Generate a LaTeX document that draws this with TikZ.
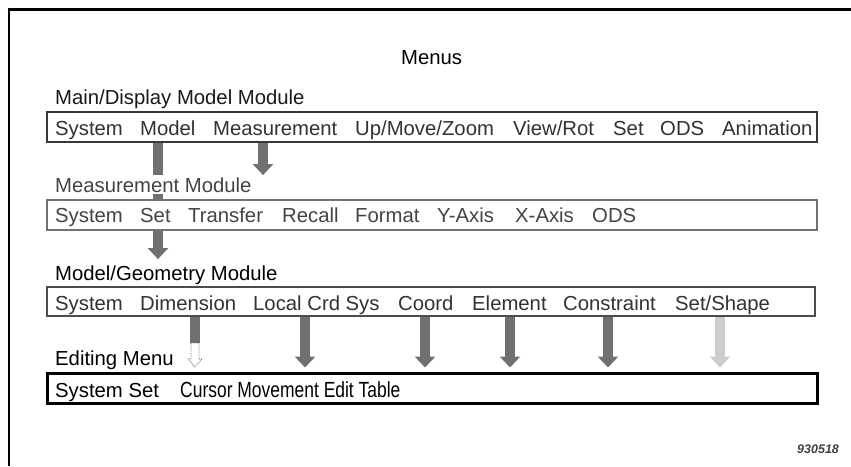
\documentclass[tikz,border=0pt]{standalone}
\usepackage{fontspec}
\setmainfont{Liberation Sans}
\usepackage{graphicx}
\usetikzlibrary{arrows.meta}
\pgfdeclarelayer{bg}
\pgfsetlayers{bg,main}
\definecolor{arr}{RGB}{112,112,112}
\definecolor{arrlight}{RGB}{205,205,205}
\definecolor{txt}{RGB}{50,50,50}
\definecolor{txtb}{RGB}{68,68,68}
\begin{document}
\begin{tikzpicture}[x=1pt,y=-1pt,
  word/.style={anchor=base west, inner sep=0pt, font=\fontsize{20.3}{24}\selectfont, text=txt},
  lbl/.style={anchor=base west, inner sep=0pt, font=\fontsize{20.3}{24}\selectfont},
  menubox/.style={draw, fill=white, inner sep=0pt, minimum width=770pt, minimum height=30pt},
  fat/.style={line width=10pt, draw=arr, -{Triangle[width=20pt,length=11pt]}},
]
\useasboundingbox (0,0) rectangle (851,466);
% frame
\draw[line width=3pt] (7.5,9) -- (851,9);
\draw[line width=2.5pt] (9,7.5) -- (9,466);

% title and labels
\node[lbl] (menus) at (401,64) {Menus};
\node[lbl, text=black!90] (l1) at (55,104) {Main/Display Model Module};
\node[lbl, text=txtb, fill=white, inner ysep=2pt] (l2) at (55,192) {Measurement Module};
\node[lbl] (l3) at (55,280) {Model/Geometry Module};
\node[lbl] (l4) at (55,365) {Editing Menu};

% boxes
\node[menubox, draw=black!78, line width=2pt] (b1) at (432,127) {};
\node[menubox, draw=black!55, line width=1.5pt] (b2) at (432,215) {};
\node[menubox, draw=black!70, line width=2pt, minimum width=768pt, minimum height=29pt] (b3) at (431,301.5) {};
\node[menubox, draw=black, line width=3pt] (b4) at (432,388) {};

% box 1 words
\node[word] (w1a) at (55,135) {System};
\node[word] (w1b) at (140,135) {Model};
\node[word] (w1c) at (213,135) {Measurement};
\node[word] (w1d) at (355,135) {Up/Move/Zoom};
\node[word] (w1e) at (513,135) {View/Rot};
\node[word] (w1f) at (613,135) {Set};
\node[word] (w1g) at (660,135) {ODS};
\node[word] (w1h) at (722,135) {Animation};

% box 2 words
\node[word, text=txtb] (w2a) at (55,222) {System};
\node[word, text=txtb] (w2b) at (140,222) {Set};
\node[word, text=txtb] (w2c) at (188,222) {Transfer};
\node[word, text=txtb] (w2d) at (282,222) {Recall};
\node[word, text=txtb] (w2e) at (355,222) {Format};
\node[word, text=txtb] (w2f) at (437,222) {Y-Axis};
\node[word, text=txtb] (w2g) at (515,222) {X-Axis};
\node[word, text=txtb] (w2h) at (592,222) {ODS};

% box 3 words
\node[word] (w3a) at (55,310) {System};
\node[word] (w3b) at (140,310) {Dimension};
\node[word] (w3c) at (253,310) {Local Crd Sys};
\node[word] (w3d) at (398,310) {Coord};
\node[word] (w3e) at (472,310) {Element};
\node[word] (w3f) at (563,310) {Constraint};
\node[word] (w3g) at (675,310) {Set/Shape};

% box 4 words
\node[word, text=black] (w4a) at (55,397) {System Set};
\node[word, text=black] (w4b) at (180,397) {\scalebox{0.86}[1.08]{Cursor Movement Edit Table}};

% code
\node[anchor=base west, inner sep=0pt, font=\fontsize{12.5}{14}\selectfont\itshape\bfseries, text=black!75] (code) at (797,453) {930518};

% arrow columns
\coordinate (xM) at (158,0);
\coordinate (xMe) at (263,0);
\coordinate (dd) at (195,343);
\coordinate (xL) at (305,0);
\coordinate (xC) at (425,0);
\coordinate (xE) at (510,0);
\coordinate (xK) at (608,0);
\coordinate (xS) at (720,0);

\begin{pgfonlayer}{bg}
\draw[fat, shorten >=6pt] (b1.south -| xM) -- (l3.north -| xM);
\draw[fat] (b1.south -| xMe) -- (l2.north -| xMe);
\draw[line width=10pt, draw=arr] (b3.south -| dd) -- (dd);
\draw[fat, shorten >=4pt] (b3.south -| xL) -- (b4.north -| xL);
\draw[fat, shorten >=4pt] (b3.south -| xC) -- (b4.north -| xC);
\draw[fat, shorten >=4pt] (b3.south -| xE) -- (b4.north -| xE);
\draw[fat, shorten >=4pt] (b3.south -| xK) -- (b4.north -| xK);
\draw[fat, draw=arrlight, shorten >=4pt] (b3.south -| xS) -- (b4.north -| xS);
\end{pgfonlayer}
% dotted hollow arrow below Dimension shaft
\draw[densely dotted, draw=black!65, line width=0.7pt, fill=white]
  ([xshift=-4pt]dd) -- ++(0,16) -- ++(-3,0) -- ++(7,8) -- ++(7,-8) -- ++(-3,0) -- ++(0,-16) -- cycle;
\end{tikzpicture}
\end{document}
